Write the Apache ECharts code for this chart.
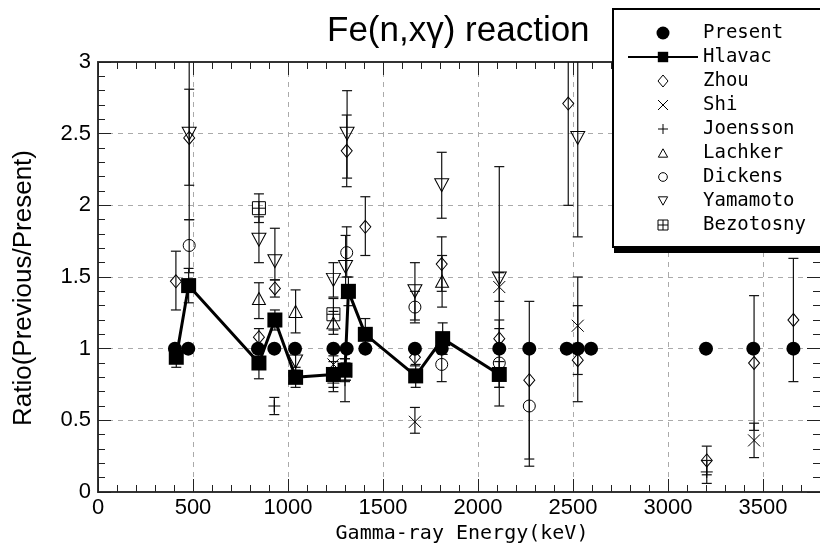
<!DOCTYPE html>
<html><head><meta charset="utf-8">
<script src="https://cdn.jsdelivr.net/npm/echarts@6/dist/echarts.min.js"></script>
<style>html,body{margin:0;padding:0;background:#fff}#c{width:820px;height:550px}</style>
</head><body><div id="c"></div>
<script>
// ---- data: [energy keV, ratio, lower, upper] ----
const present = [[405,1.00],[475,1.00],[842,1.00],[928,1.00],[1037,1.00],[1239,1.00],[1309,1.00],[1407,1.00],[1668,1.00],[1809,1.00],[2112,1.00],[2270,1.00],[2467,1.00],[2525,1.00],[2595,1.00],[3200,1.00],[3449,1.00],[3660,1.00]];
const hlavac = [[412,0.94,0.87,1.01],[477,1.44,1.32,1.56],[847,0.90,0.79,1.01],[931,1.20,1.13,1.27],[1040,0.80,0.73,0.87],[1239,0.82,0.73,0.91],[1300,0.85,0.77,0.93],[1318,1.40,1.30,1.50],[1407,1.10,0.99,1.21],[1672,0.81,0.73,0.89],[1814,1.07,0.96,1.18],[2112,0.82,0.73,0.91]];
const zhou = [[410,1.47,1.27,1.68],[480,2.47,2.14,2.81],[847,1.08,1.02,1.14],[931,1.42,1.36,1.48],[1309,2.38,2.13,2.63],[1407,1.85,1.65,2.06],[1668,0.94,0.88,1.00],[1809,1.59,1.40,1.78],[2112,1.07,1.00,1.14],[2270,0.78,0.23,1.33],[2475,2.71,2.00,3.40],[2525,0.92,0.63,1.30],[3204,0.22,0.12,0.32],[3453,0.90,0.43,1.37],[3660,1.20,0.77,1.63]];
const shi = [[1239,0.89,0.83,0.95],[1303,0.84,0.78,0.90],[1668,0.49,0.41,0.59],[2112,1.43,1.33,1.53],[2525,1.16,0.82,1.50],[3453,0.36,0.24,0.48]];
const joensson = [[928,0.60,0.54,0.66],[1239,0.76,0.70,0.82],[1300,0.78,0.63,0.93],[3204,0.14,0.06,0.22]];
const lachker = [[847,1.35,1.21,1.46],[1040,1.26,1.11,1.41],[1239,1.18,1.10,1.26],[1811,1.47,1.29,1.65]];
const dickens = [[480,1.72,1.53,1.90],[1309,1.67,1.50,1.85],[1668,1.29,1.18,1.40],[1809,0.89,0.77,1.01],[2112,0.90,0.60,1.20],[2270,0.60,0.18,1.02]];
const yamamoto = [[480,2.50,1.90,3.20],[847,1.76,1.60,1.92],[931,1.61,1.48,1.84],[1040,0.91,0.85,0.97],[1239,1.48,1.36,1.60],[1303,1.57,1.35,1.79],[1311,2.50,2.19,2.80],[1668,1.40,1.20,1.60],[1809,2.14,1.91,2.37],[2112,1.49,0.73,2.27],[2525,2.47,1.78,3.20]];
const bezotosny = [[847,1.98,1.88,2.08],[1239,1.24,1.13,1.35]];
const legendNames = ['Present','Hlavac','Zhou','Shi','Joensson','Lachker','Dickens','Yamamoto','Bezotosny'];

// ---- symbols ----
const SYM = {
  diamond: 'path://M5,0L10,6L5,12L0,6Z',
  triUp: 'path://M5,0L10,9L0,9Z',
  triDown: 'path://M0,0L10,0L5,9Z',
  ring: 'path://M5,0A5,5,0,1,1,5,10A5,5,0,1,1,5,0Z',
  cross: 'path://M0,0L10,10M10,0L0,10',
  plus: 'path://M5,0L5,10M0,5L10,5',
  boxPlus: 'path://M0,0L10,0L10,10L0,10ZM5,0L5,10M0,5L10,5'
};
// legend icons: same shapes with a little empty margin (move-to points widen the box)
const ICON = {
  diamond: 'path://M5,-0.5M5,12.5M5,0L10,6L5,12L0,6Z',
  triUp: 'path://M-2,-2.5M12,11.5M5,0L10,9L0,9Z',
  triDown: 'path://M-2,-2.5M12,11.5M0,0L10,0L5,9Z',
  ring: 'path://M-2.5,-2.5M12.5,12.5M5,0A5,5,0,1,1,5,10A5,5,0,1,1,5,0Z',
  cross: 'path://M-1.5,-1.5M11.5,11.5M0,0L10,10M10,0L0,10',
  plus: 'path://M-1.5,-1.5M11.5,11.5M5,0L5,10M0,5L10,5',
  boxPlus: 'path://M-1.5,-1.5M11.5,11.5M0,0L10,0L10,10L0,10ZM5,0L5,10M0,5L10,5'
};

const Y_MIN = 0, Y_MAX = 3;
function errRender(params, api) {
  const x = api.value(0), lo = api.value(2), hi = api.value(3);
  const loC = Math.max(lo, Y_MIN), hiC = Math.min(hi, Y_MAX);
  const p1 = api.coord([x, loC]), p2 = api.coord([x, hiC]);
  const hw = 5, st = {stroke:'#111', lineWidth:1.2};
  const ch = [{type:'line', shape:{x1:p1[0], y1:p1[1], x2:p2[0], y2:p2[1]}, style:st}];
  if (lo >= Y_MIN) ch.push({type:'line', shape:{x1:p1[0]-hw, y1:p1[1], x2:p1[0]+hw, y2:p1[1]}, style:st});
  if (hi <= Y_MAX) ch.push({type:'line', shape:{x1:p2[0]-hw, y1:p2[1], x2:p2[0]+hw, y2:p2[1]}, style:st});
  return {type:'group', children:ch};
}
function errSeries(name, data) {
  return {type:'custom', name:'err-'+name, data:data, renderItem:errRender, z:1, silent:true,
          encode:{x:0, y:1}, animation:false};
}
function hollow(name, data, symbol, size) {
  return {type:'scatter', name:name, data:data, symbol:symbol, symbolSize:size, z:2,
          itemStyle:{color:'rgba(255,255,255,0)', borderColor:'#000', borderWidth:1, opacity:1},
          encode:{x:0, y:1}};
}

const FONT = 'Liberation Sans, Arial, sans-serif';
const MONO = 'DejaVu Sans Mono, monospace';
const axisLineStyle = {color:'#333', width:2};
const tickStyle = {color:'#222', width:1};
const plainNum = v => String(v);

const chart = echarts.init(document.getElementById('c'), null, {renderer:'canvas'});
chart.setOption({
  animation:false,
  backgroundColor:'#fff',
  title:{text:'Fe(n,xγ) reaction', left:327, top:14, padding:0,
         textStyle:{fontFamily:FONT, fontSize:35, fontWeight:'normal', color:'#000'}},
  grid:{left:98, right:0, top:62, bottom:58, containLabel:false},
  graphic:[
    // legend frame: white panel running off the right edge, hard shadow below
    {type:'polygon', z:20, silent:true,
     shape:{points:[[613,9],[820,9],[820,247],[613,247]]}, style:{fill:'#fff'}},
    {type:'polygon', z:21, silent:true,
     shape:{points:[[614,246],[820,246],[820,253],[614,253]]}, style:{fill:'#000'}},
    {type:'polyline', z:22, silent:true,
     shape:{points:[[820,9],[613,9],[613,247],[820,247]]}, style:{stroke:'#000', lineWidth:2, fill:null}}
  ],
  legend:{orient:'vertical', left:613, top:9, padding:[14,20,11,14], z:30,
          data:[
            {name:'Present'},{name:'Hlavac'},
            {name:'Zhou', icon:ICON.diamond},{name:'Shi', icon:ICON.cross},{name:'Joensson', icon:ICON.plus},
            {name:'Lachker', icon:ICON.triUp},{name:'Dickens', icon:ICON.ring},{name:'Yamamoto', icon:ICON.triDown},
            {name:'Bezotosny', icon:ICON.boxPlus}],
          itemWidth:70, itemHeight:13, itemGap:4, selectedMode:false,
          backgroundColor:'transparent', borderWidth:0,
          itemStyle:{borderWidth:1},
          textStyle:{fontFamily:MONO, fontSize:19, lineHeight:20, color:'#000'}},
  xAxis:[
    {type:'value', min:0, max:3800, interval:500, position:'bottom',
     axisLine:{show:true, onZero:false, lineStyle:axisLineStyle},
     axisTick:{inside:true, length:13, lineStyle:tickStyle},
     axisLabel:{fontFamily:FONT, fontSize:22, color:'#000', margin:5, showMaxLabel:false, formatter:plainNum},
     splitLine:{show:true, lineStyle:{type:[5,5], color:'#aaa', width:1}},
     name:'Gamma-ray Energy(keV)', nameLocation:'middle', nameGap:31,
     nameTextStyle:{fontFamily:MONO, fontSize:20, color:'#000', padding:[0,0,0,6]}},
    {type:'value', min:0, max:3800, interval:100, position:'bottom',
     axisLine:{show:false, onZero:false}, axisTick:{inside:true, length:7, lineStyle:tickStyle},
     axisLabel:{show:false}, splitLine:{show:false}},
    {type:'value', min:0, max:3800, interval:500, position:'top',
     axisLine:{show:true, onZero:false, lineStyle:axisLineStyle},
     axisTick:{inside:true, length:13, lineStyle:tickStyle},
     axisLabel:{show:false}, splitLine:{show:false}},
    {type:'value', min:0, max:3800, interval:100, position:'top',
     axisLine:{show:false, onZero:false}, axisTick:{inside:true, length:7, lineStyle:tickStyle},
     axisLabel:{show:false}, splitLine:{show:false}}
  ],
  yAxis:[
    {type:'value', min:0, max:3, interval:0.5, position:'left',
     axisLine:{show:true, onZero:false, lineStyle:axisLineStyle},
     axisTick:{inside:true, length:13, lineStyle:tickStyle},
     minorTick:{show:true, splitNumber:5, length:7, lineStyle:tickStyle},
     axisLabel:{fontFamily:FONT, fontSize:22, color:'#000', margin:7, formatter:plainNum},
     splitLine:{show:true, lineStyle:{type:[5,5], color:'#aaa', width:1}},
     name:'Ratio(Previous/Present)', nameLocation:'middle', nameGap:61,
     nameTextStyle:{fontFamily:FONT, fontSize:26, color:'#000', padding:[0,22,0,0]}},
    {type:'value', min:0, max:3, interval:0.5, position:'right',
     axisLine:{show:false, onZero:false},
     axisTick:{inside:true, length:13, lineStyle:tickStyle},
     minorTick:{show:true, splitNumber:5, length:7, lineStyle:tickStyle},
     axisLabel:{show:false}, splitLine:{show:false}}
  ],
  series:[
    errSeries('Hlavac', hlavac), errSeries('Zhou', zhou), errSeries('Shi', shi),
    errSeries('Joensson', joensson), errSeries('Lachker', lachker), errSeries('Dickens', dickens),
    errSeries('Yamamoto', yamamoto), errSeries('Bezotosny', bezotosny),
    hollow('Zhou', zhou, SYM.diamond, [11,13]),
    hollow('Shi', shi, SYM.cross, 12),
    hollow('Joensson', joensson, SYM.plus, 12),
    hollow('Lachker', lachker, SYM.triUp, [13,12]),
    hollow('Dickens', dickens, SYM.ring, 12),
    hollow('Yamamoto', yamamoto, SYM.triDown, [14,13]),
    hollow('Bezotosny', bezotosny, SYM.boxPlus, 13),
    {type:'line', name:'Hlavac', data:hlavac, encode:{x:0, y:1}, symbol:'rect', symbolSize:15, z:3,
     lineStyle:{color:'#000', width:3}, itemStyle:{color:'#000', borderWidth:0}},
    {type:'scatter', name:'Present', data:present, symbol:'circle', symbolSize:14, z:4,
     itemStyle:{color:'#000', borderWidth:0, opacity:1}}
  ]
});
</script></body></html>
